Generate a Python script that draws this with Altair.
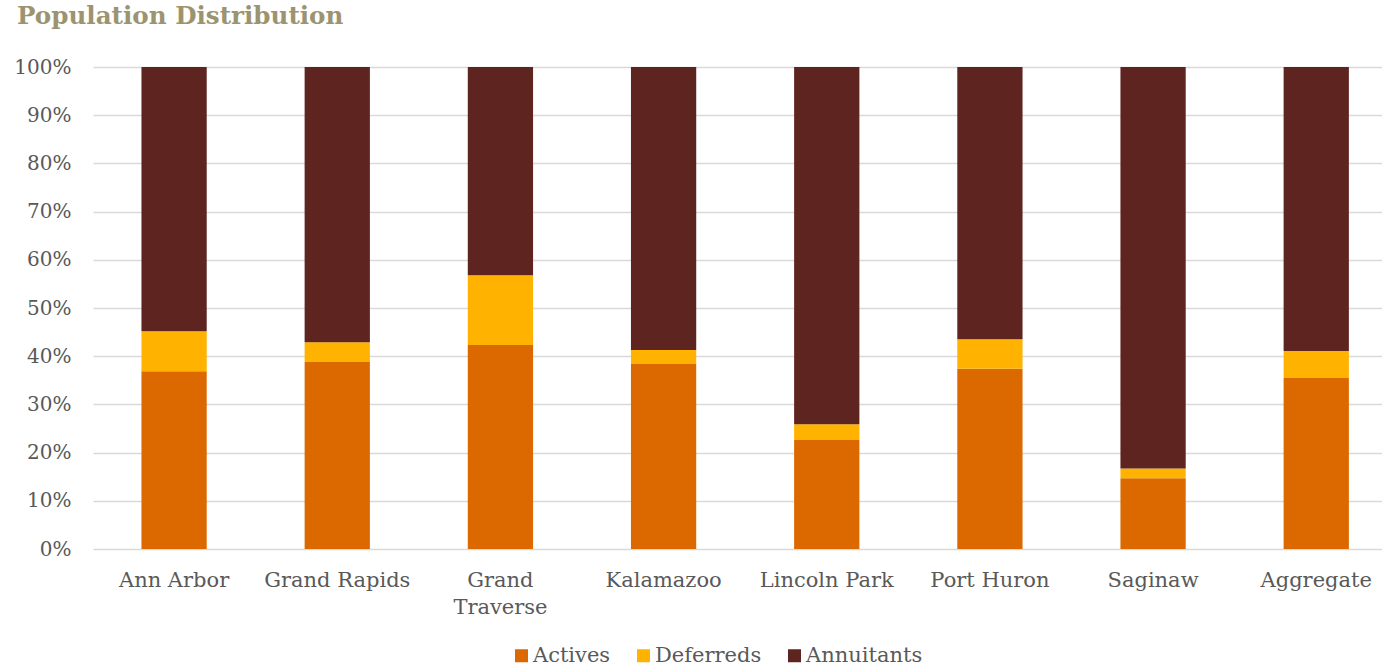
import altair as alt
import pandas as pd

cities = ["Ann Arbor", "Grand Rapids", "Grand Traverse", "Kalamazoo",
          "Lincoln Park", "Port Huron", "Saginaw", "Aggregate"]
actives = [36.9, 38.8, 42.3, 38.4, 22.6, 37.4, 14.7, 35.5]
deferreds = [8.3, 4.1, 14.5, 2.9, 3.3, 6.1, 2.0, 5.6]
annuitants = [round(100 - a - d, 1) for a, d in zip(actives, deferreds)]
series = ["Actives", "Deferreds", "Annuitants"]
colors = ["#DC6900", "#FFB300", "#5E2420"]

rows = []
for i, c in enumerate(cities):
    for k, (s, vals) in enumerate(zip(series, [actives, deferreds, annuitants])):
        rows.append({"city": c, "series": s, "value": vals[i] / 100, "order": k})
df = pd.DataFrame(rows)

FONT = "DejaVu Serif"

chart = alt.Chart(df).mark_bar().encode(
    x=alt.X("city:N", sort=cities, title=None,
            scale=alt.Scale(paddingInner=0.6, paddingOuter=0.25, align=0.594),
            axis=alt.Axis(labelAngle=0, labelFont=FONT, labelFontSize=21,
                          labelColor="#595959", labelPadding=20, ticks=False,
                          domain=False, labelLineHeight=27,
                          labelExpr="datum.value == 'Grand Traverse' ? ['Grand', 'Traverse'] : datum.label")),
    y=alt.Y("value:Q", stack="zero", title=None,
            scale=alt.Scale(domain=[0, 1], nice=False),
            axis=alt.Axis(format="%", values=[i / 10 for i in range(11)],
                          labelFont=FONT, labelFontSize=20, labelColor="#595959",
                          labelPadding=22, ticks=False, domain=False,
                          gridColor="#D9D9D9", gridWidth=1.5)),
    color=alt.Color("series:N", sort=series,
                    scale=alt.Scale(domain=series, range=colors),
                    legend=alt.Legend(title=None, orient="none", direction="horizontal",
                                      legendX=418, legendY=578, symbolType="square",
                                      symbolSize=169, symbolStrokeWidth=0,
                                      labelFont=FONT, labelFontSize=21,
                                      labelColor="#595959", columnPadding=22,
                                      labelOffset=1, symbolOpacity=1)),
    order=alt.Order("order:Q"),
).properties(
    width=1289, height=482,
    title=alt.TitleParams("Population Distribution", anchor="start", frame="group",
                          font=FONT, fontSize=24.6, fontWeight="bold", color="#9C9470",
                          dx=-76, offset=27),
    padding={"left": 93, "top": 67, "right": 0, "bottom": 118},
    autosize=alt.AutoSizeParams(type="none"),
).configure_view(stroke=None)

chart.save("out.html", embed_options={"renderer": "svg", "actions": False})
